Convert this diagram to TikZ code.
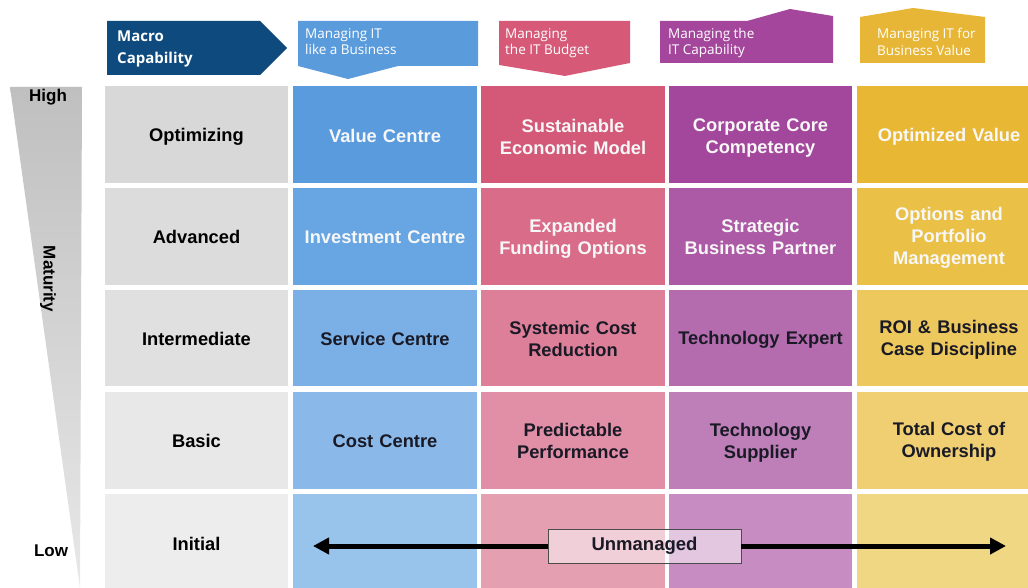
\documentclass[tikz,border=0pt]{standalone}
\usepackage{fontspec}
\usepackage{graphicx}
\setmainfont{Liberation Sans}
\newfontfamily\hdrfont{Open Sans}
\usetikzlibrary{arrows.meta}
\definecolor{macro}{HTML}{0E4A7E}
\definecolor{hblue}{HTML}{5A9BDC}
\definecolor{hpink}{HTML}{D65A78}
\definecolor{hpurp}{HTML}{A4479C}
\definecolor{hgold}{HTML}{E7B636}
\definecolor{g1}{HTML}{D8D8D8}
\definecolor{g2}{HTML}{DCDCDC}
\definecolor{g3}{HTML}{E0E0E0}
\definecolor{g4}{HTML}{E8E8E8}
\definecolor{g5}{HTML}{EDEDED}
\definecolor{b1}{HTML}{5A9BDD}
\definecolor{b2}{HTML}{67A6E2}
\definecolor{b3}{HTML}{7AB0E6}
\definecolor{b4}{HTML}{8AB9E9}
\definecolor{b5}{HTML}{98C3EB}
\definecolor{p1}{HTML}{D45878}
\definecolor{p2}{HTML}{D86C89}
\definecolor{p3}{HTML}{DD7F98}
\definecolor{p4}{HTML}{E18FA6}
\definecolor{p5}{HTML}{E49FB1}
\definecolor{u1}{HTML}{A2479B}
\definecolor{u2}{HTML}{AC5AA5}
\definecolor{u3}{HTML}{B46CAE}
\definecolor{u4}{HTML}{BE7FB9}
\definecolor{u5}{HTML}{C78DC2}
\definecolor{y1}{HTML}{E8B834}
\definecolor{y2}{HTML}{EAC046}
\definecolor{y3}{HTML}{EDC85D}
\definecolor{y4}{HTML}{EFCF72}
\definecolor{y5}{HTML}{F0D784}
\definecolor{darktxt}{HTML}{1A1A26}
\definecolor{lighttxt}{HTML}{F7F7F7}
\tikzset{
  cellbg/.style={inner sep=0pt, outer sep=0pt},
  cell/.style={inner sep=0pt, outer sep=0pt, align=center, font=\fontsize{18.3}{22}\selectfont\bfseries},
  hdrtext/.style={anchor=north west, inner sep=0pt, align=left, text=white, font=\hdrfont\fontsize{13.5}{16.5}\selectfont},
  sidelab/.style={inner sep=0pt, font=\fontsize{17}{20}\selectfont\bfseries, text=black},
  bigtip/.tip={Triangle[length=16pt,width=16pt]},
}
\begin{document}
\begin{tikzpicture}[x=1pt,y=-1pt]
\useasboundingbox (0,0) rectangle (1028,588);
\begin{scope}
\clip (0,0) rectangle (1028,588);
% wedge
\shade[top color=black!25, bottom color=black!9] (10,87) -- (82,87) -- (80,588) -- cycle;
\node[sidelab] (high) at (48,97) {High};
\node[sidelab] (low) at (51,551) {Low};
\node[sidelab, rotate=-90] (mat) at (48,279) {Maturity};
% headers
\fill[macro] (107,21) -- (260,21) -- (287,48) -- (260,75) -- (107,75) -- cycle;
\node[hdrtext, font=\hdrfont\bfseries\fontsize{15}{21.5}\selectfont] (hmacro) at (117,31) {Macro\\Capability};
\fill[hblue] (298,21) -- (478,21) -- (478,66) -- (398,66) -- (348,79) -- (298,66) -- cycle;
\node[hdrtext] (hb) at (305,28) {Managing IT\\like a Business};
\fill[hpink] (499,21) -- (630,21) -- (630,63) -- (565,76) -- (499,65) -- cycle;
\node[hdrtext] (hp) at (505,28) {Managing\\the IT Budget};
\fill[hpurp] (660,21) -- (747,21) -- (790,9) -- (833,16) -- (833,63) -- (660,63) -- cycle;
\node[hdrtext] (hu) at (668,28) {Managing the\\IT Capability};
\fill[hgold] (860,17) -- (913,8) -- (985,17) -- (985,63) -- (860,63) -- cycle;
\node[hdrtext] (hy) at (877,28) {Managing IT for\\Business Value};
% grid
% args: x, y, w, h, fill, textcolour, text, name, text offset (down)
\newcommand{\gridcell}[9]{%
  \node[cellbg, fill=#5, minimum width=#3pt, minimum height=#4pt] (#8) at (#1,#2) {};
  \node[cell, text=#6, text width=#3pt-10pt] (#8t) at ([yshift=-#9pt]#8.center) {#7};}
% label column
\gridcell{196.5}{134.5}{183}{97}{g1}{black}{Optimizing}{l1}{2.5}
\gridcell{196.5}{236.5}{183}{97}{g2}{black}{Advanced}{l2}{0.5}
\gridcell{196.5}{338}{183}{96}{g3}{black}{Intermediate}{l3}{1}
\gridcell{196.5}{440.5}{183}{97}{g4}{black}{Basic}{l4}{0}
\gridcell{196.5}{543}{183}{98}{g5}{black}{Initial}{l5}{0.5}
% blue
\gridcell{385}{134.5}{184}{97}{b1}{lighttxt}{Value Centre}{b1c}{1.5}
\gridcell{385}{236.5}{184}{97}{b2}{lighttxt}{Investment Centre}{b2c}{0.5}
\gridcell{385}{338}{184}{96}{b3}{darktxt}{Service Centre}{b3c}{1}
\gridcell{385}{440.5}{184}{97}{b4}{darktxt}{Cost Centre}{b4c}{0.5}
\gridcell{385}{543}{184}{98}{b5}{darktxt}{}{b5c}{0}
% pink
\gridcell{573}{134.5}{184}{97}{p1}{lighttxt}{Sustainable\\Economic Model}{p1c}{2}
\gridcell{573}{236.5}{184}{97}{p2}{lighttxt}{Expanded\\Funding Options}{p2c}{2}
\gridcell{573}{338}{184}{96}{p3}{darktxt}{Systemic Cost\\Reduction}{p3c}{0.5}
\gridcell{573}{440.5}{184}{97}{p4}{darktxt}{Predictable\\Performance}{p4c}{0}
\gridcell{573}{543}{184}{98}{p5}{darktxt}{}{p5c}{0}
% purple
\gridcell{760.5}{134.5}{183}{97}{u1}{lighttxt}{Corporate Core\\Competency}{u1c}{3.5}
\gridcell{760.5}{236.5}{183}{97}{u2}{lighttxt}{Strategic\\Business Partner}{u2c}{0.5}
\gridcell{760.5}{338}{183}{96}{u3}{darktxt}{Technology Expert}{u3c}{2}
\gridcell{760.5}{440.5}{183}{97}{u4}{darktxt}{Technology\\Supplier}{u4c}{2}
\gridcell{760.5}{543}{183}{98}{u5}{darktxt}{}{u5c}{0}
% gold
\gridcell{949}{134.5}{184}{97}{y1}{lighttxt}{Optimized Value}{y1c}{2.5}
\gridcell{949}{236.5}{184}{97}{y2}{lighttxt}{Options and\\Portfolio\\Management}{y2c}{1.5}
\gridcell{949}{338}{184}{96}{y3}{darktxt}{ROI \& Business\\Case Discipline}{y3c}{1.5}
\gridcell{949}{440.5}{184}{97}{y4}{darktxt}{Total Cost of\\Ownership}{y4c}{1.5}
\gridcell{949}{543}{184}{98}{y5}{darktxt}{}{y5c}{0}
% unmanaged arrow
\coordinate (aL) at (313,546);
\coordinate (aR) at (1006,546);
\node[draw=black!70, line width=0.8pt, fill=white, fill opacity=0.5, text opacity=1, minimum width=193pt, minimum height=34pt, inner sep=0pt, font=\fontsize{18.5}{20}\selectfont\bfseries, text=darktxt] (unm) at (644.5,546) {Unmanaged};
\draw[line width=5pt, {bigtip}-] (aL) -- (unm.west);
\draw[line width=5pt, -{bigtip}] (unm.east) -- (aR);
\end{scope}
\end{tikzpicture}
\end{document}
